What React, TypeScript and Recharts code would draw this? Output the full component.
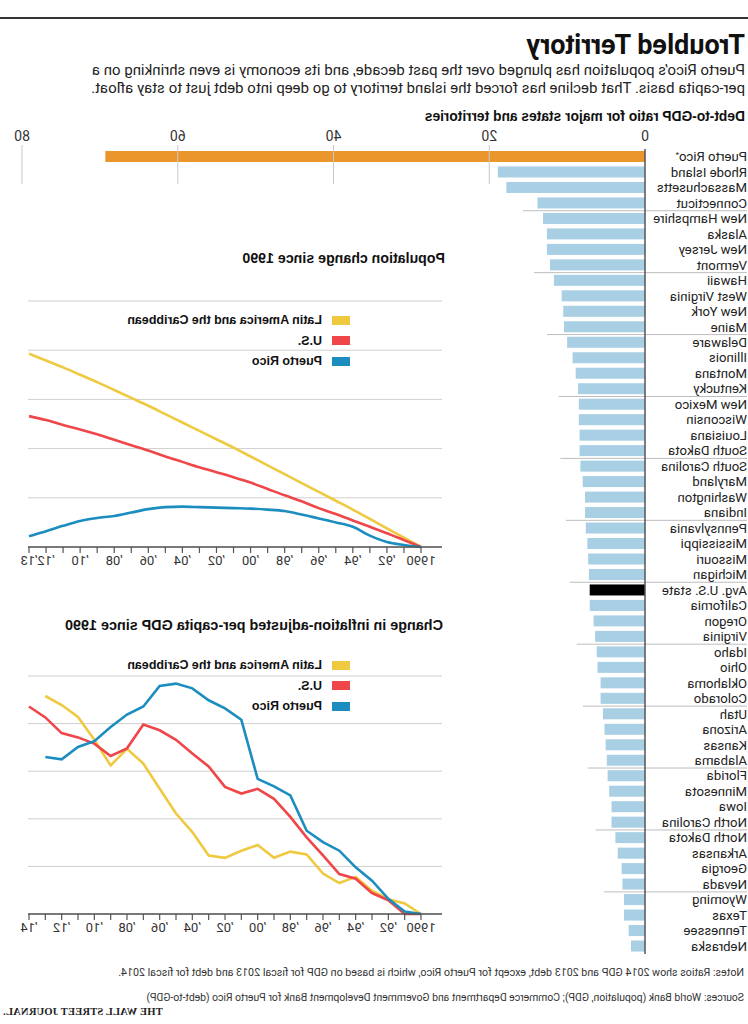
import React from 'react';
import { BarChart, Bar, XAxis, YAxis, LineChart, Line, CartesianGrid, Legend } from 'recharts';

// ---------- data ----------
const states = ['Puerto Rico', 'Rhode Island', 'Massachusetts', 'Connecticut', 'New Hampshire', 'Alaska', 'New Jersey', 'Vermont', 'Hawaii', 'West Virginia', 'New York', 'Maine', 'Delaware', 'Illinois', 'Montana', 'Kentucky', 'New Mexico', 'Wisconsin', 'Louisiana', 'South Dakota', 'South Carolina', 'Maryland', 'Washington', 'Indiana', 'Pennsylvania', 'Mississippi', 'Missouri', 'Michigan', 'Avg. U.S. state', 'California', 'Oregon', 'Virginia', 'Idaho', 'Ohio', 'Oklahoma', 'Colorado', 'Utah', 'Arizona', 'Kansas', 'Alabama', 'Florida', 'Minnesota', 'Iowa', 'North Carolina', 'North Dakota', 'Arkansas', 'Georgia', 'Nevada', 'Wyoming', 'Texas', 'Tennessee', 'Nebraska'];
const debtToGdp = [69.3, 18.9, 17.8, 13.8, 13.1, 12.6, 12.6, 12.2, 11.7, 10.7, 10.5, 10.4, 10.0, 9.3, 8.9, 8.6, 8.5, 8.5, 8.4, 8.4, 8.3, 8.0, 7.7, 7.7, 7.6, 7.4, 7.3, 7.2, 7.1, 7.1, 6.6, 6.4, 6.2, 6.1, 5.7, 5.7, 5.4, 5.2, 5.05, 4.9, 4.8, 4.6, 4.3, 4.3, 3.8, 3.5, 3.0, 2.9, 2.7, 2.7, 2.1, 1.8];
const debtTicks = [0, 20, 40, 60, 80];

const popYears = [1990, 1991, 1992, 1993, 1994, 1995, 1996, 1997, 1998, 1999, 2000, 2001, 2002, 2003, 2004, 2005, 2006, 2007, 2008, 2009, 2010, 2011, 2012, 2013];
const popLatAm = [0, 1.9, 3.8, 5.7, 7.6, 9.4, 11.2, 13.0, 14.8, 16.6, 18.4, 20.2, 21.9, 23.6, 25.3, 27.0, 28.7, 30.3, 31.9, 33.5, 35.0, 36.5, 37.9, 39.3];
const popUS = [0, 1.4, 2.8, 4.1, 5.4, 6.7, 7.9, 9.3, 10.5, 11.8, 13.1, 14.2, 15.2, 16.2, 17.3, 18.4, 19.6, 20.7, 21.8, 22.9, 23.9, 24.8, 25.8, 26.6];
const popPR = [0, 0.4, 1.0, 2.3, 4.1, 5.0, 5.8, 6.6, 7.3, 7.6, 7.8, 7.9, 8.0, 8.1, 8.2, 8.1, 7.7, 7.0, 6.3, 5.9, 5.3, 4.3, 3.2, 2.2];

const gdpYears = [1990, 1991, 1992, 1993, 1994, 1995, 1996, 1997, 1998, 1999, 2000, 2001, 2002, 2003, 2004, 2005, 2006, 2007, 2008, 2009, 2010, 2011, 2012, 2013, 2014];
const gdpLatAm = [0, 2.2, 3.1, 4.9, 7.8, 6.5, 8.5, 12.5, 13.1, 11.8, 14.5, 13.3, 11.8, 12.3, 17.2, 21.1, 26.3, 31.6, 34.7, 31.2, 36.6, 41.4, 43.9, 45.8, null];
const gdpUS = [0, 0, 2.9, 4.4, 7.4, 8.4, 12.3, 16.1, 20.4, 24.2, 26.3, 25.3, 26.7, 31.0, 33.7, 36.6, 38.6, 39.8, 34.8, 33.2, 35.8, 37.1, 38.0, 41.3, 43.6];
const gdpPR = [0, 0.5, 3.2, 7.0, 9.8, 13.3, 15.1, 17.5, 24.9, 26.8, 28.4, 40.8, 43.2, 44.9, 47.4, 48.4, 47.9, 43.6, 41.9, 39.3, 36.3, 35.1, 32.5, 33.0, null];
const pctTicks = [0, 10, 20, 30, 40, 50];

const seriesNames = ['Latin America and the Caribbean', 'U.S.', 'Puerto Rico'];
const seriesColors = ['#efc940', '#ef4649', '#1b8dbf'];

// ---------- tables ----------
const debtData = states.map((name, i) => ({ name, value: debtToGdp[i] }));
const popData = popYears.map((year, i) => ({ year, latam: popLatAm[i], us: popUS[i], pr: popPR[i] }));
const gdpData = gdpYears.map((year, i) => ({ year, latam: gdpLatAm[i], us: gdpUS[i], pr: gdpPR[i] }));

const NARROW = '"Liberation Sans Narrow", "Arial Narrow", "Roboto", sans-serif';
const BOLD = '"Liberation Sans", Arial, sans-serif';

const DebtBar = (props: any) => {
  const { x, y, width, height, index, payload } = props;
  const fill = payload.name === 'Puerto Rico' ? '#ea962d' : payload.name === 'Avg. U.S. state' ? '#000' : '#a8cfe3';
  return (
    <g>
      {index > 0 && index % 4 === 0 && (
        <line x1={1} x2={x + width + 20} y1={y - 2.2} y2={y - 2.2} stroke="#bdbdbd" strokeWidth={1} />
      )}
      <rect x={x} y={y} width={width} height={height} fill={fill} />
    </g>
  );
};

const DebtTick = (props: any) => {
  const { x, y, payload } = props;
  return (
    <g>
      <text x={x} y={y} textAnchor="middle" fontSize={14} fill="#333" fontFamily={NARROW}>{payload.value}</text>
      {payload.value !== 0 && <line x1={x} x2={x} y1={y + 4} y2={y + 43} stroke="#c8c8c8" strokeWidth={1} />}
    </g>
  );
};

const StateTick = (props: any) => {
  const { x, y, payload } = props;
  const isPR = payload.value === 'Puerto Rico';
  return (
    <text x={x} y={y} dy={4.5} textAnchor="start" fontSize={13.2} fill="#222" fontFamily={NARROW}>
      {payload.value}
      {isPR && <tspan fontSize={8} dy={-4}>*</tspan>}
    </text>
  );
};

const makeYearTick = (last: number) => (props: any) => {
  const { x, y, payload } = props;
  const v = payload.value;
  let label = '';
  if (v === 1990) label = '1990';
  else if (v % 2 === 0 || v === last) label = '\u2019' + String(v).slice(2);
  return (
    <text x={x} y={y} dy={10} textAnchor="middle" fontSize={13} fill="#333" fontFamily={NARROW}>{label}</text>
  );
};

const PctTick = (props: any) => {
  const { x, y, payload } = props;
  return (
    <text x={x} y={y} dy={-5} textAnchor="start" fontSize={13} fill="#333" fontFamily={NARROW}>
      {payload.value === 50 ? '50%' : payload.value}
    </text>
  );
};

const LegendBox = (props: any) => {
  const items = [...(props.payload || [])].sort(
    (a: any, b: any) => seriesNames.indexOf(a.value) - seriesNames.indexOf(b.value)
  );
  return (
    <div style={{ fontFamily: BOLD, fontWeight: 'bold', fontSize: 12.5, color: '#111' }}>
      {items.map((it: any) => (
        <div key={it.value} style={{ display: 'flex', alignItems: 'center', height: 20.5, whiteSpace: 'nowrap' }}>
          <span style={{ display: 'inline-block', width: 18, height: 9, background: it.color, marginRight: 10 }} />
          <span>{it.value}</span>
        </div>
      ))}
    </div>
  );
};

const SmallLineChart = ({ data, years, last, height, legendTop, curve }: any) => (
  <LineChart width={748} height={height} data={data} margin={{ top: 21, right: 28, bottom: 8, left: 306 }}>
    <CartesianGrid vertical={false} stroke="#cfcfcf" strokeWidth={1} />
    <XAxis
      dataKey="year"
      type="number"
      domain={[1990, last]}
      ticks={years}
      interval={0}
      padding={{ left: 21, right: 1 }}
      height={25}
      tickSize={6}
      tickMargin={2}
      axisLine={{ stroke: '#555', strokeWidth: 1.5 }}
      tickLine={{ stroke: '#555', strokeWidth: 1.2 }}
      tick={makeYearTick(last)}
    />
    <YAxis
      domain={[0, 50]}
      ticks={pctTicks}
      mirror
      width={0}
      tickSize={0}
      tickMargin={0}
      axisLine={false}
      tickLine={false}
      tick={PctTick}
    />
    <Legend
      layout="vertical"
      align="center"
      verticalAlign="middle"
      content={LegendBox}
      wrapperStyle={{ left: 398, top: legendTop, width: 'auto', height: 'auto' }}
    />
    <Line type={curve} dataKey="latam" name={seriesNames[0]} stroke={seriesColors[0]} strokeWidth={2.6} dot={false} isAnimationActive={false} />
    <Line type={curve} dataKey="us" name={seriesNames[1]} stroke={seriesColors[1]} strokeWidth={2.6} dot={false} isAnimationActive={false} />
    <Line type={curve} dataKey="pr" name={seriesNames[2]} stroke={seriesColors[2]} strokeWidth={2.6} dot={false} isAnimationActive={false} />
  </LineChart>
);

export default function App() {
  return (
    <div
      style={{
        position: 'absolute',
        left: 0,
        top: 0,
        width: 748,
        height: 1024,
        overflow: 'hidden',
        background: '#fff',
        transform: 'scaleX(-1)',
        color: '#222',
      }}
    >
      <div style={{ position: 'absolute', left: 0, top: 17, width: 748, height: 2, background: '#333' }} />
      <div style={{ position: 'absolute', left: 3, top: 28, fontFamily: NARROW, fontWeight: 'bold', fontSize: 27, lineHeight: '34px', color: '#111', whiteSpace: 'nowrap' }}>
        Troubled Territory
      </div>
      <div style={{ position: 'absolute', left: 3, top: 61, fontFamily: NARROW, fontSize: 15, lineHeight: '18px', color: '#222', whiteSpace: 'nowrap' }}>
        Puerto Rico’s population has plunged over the past decade, and its economy is even shrinking on a
        <br />
        per-capita basis. That decline has forced the island territory to go deep into debt just to stay afloat.
      </div>
      <div style={{ position: 'absolute', left: 3, top: 109, fontFamily: BOLD, fontWeight: 'bold', fontSize: 13.8, lineHeight: '16px', color: '#111', whiteSpace: 'nowrap' }}>
        Debt-to-GDP ratio for major states and territories
      </div>

      <div style={{ position: 'absolute', left: 0, top: 0 }}>
        <BarChart width={748} height={960} layout="vertical" data={debtData} margin={{ top: 119, right: 22, bottom: 6, left: 0 }} barSize={11}>
          <XAxis type="number" orientation="top" domain={[0, 80]} ticks={debtTicks} axisLine={false} tickLine={false} height={30} tick={DebtTick} />
          <YAxis type="category" dataKey="name" width={103} interval={0} tickSize={0} tickMargin={102} axisLine={{ stroke: '#555', strokeWidth: 1.5 }} tickLine={false} tick={StateTick} />
          <Bar dataKey="value" isAnimationActive={false} shape={DebtBar} />
        </BarChart>
      </div>

      <div style={{ position: 'absolute', left: 303, top: 250, fontFamily: BOLD, fontWeight: 'bold', fontSize: 14.2, lineHeight: '17px', color: '#111', whiteSpace: 'nowrap' }}>
        Population change since 1990
      </div>
      <div style={{ position: 'absolute', left: 0, top: 280 }}>
        <SmallLineChart data={popData} years={popYears} last={2013} height={300} legendTop={30} curve="monotone" />
      </div>

      <div style={{ position: 'absolute', left: 305, top: 617, fontFamily: BOLD, fontWeight: 'bold', fontSize: 14.4, lineHeight: '17px', color: '#111', whiteSpace: 'nowrap' }}>
        Change in inflation-adjusted per-capita GDP since 1990
      </div>
      <div style={{ position: 'absolute', left: 0, top: 655 }}>
        <SmallLineChart data={gdpData} years={gdpYears} last={2014} height={292} legendTop={0} curve="linear" />
      </div>

      <div style={{ position: 'absolute', left: 4, top: 966, fontFamily: NARROW, fontSize: 10.7, lineHeight: '14px', color: '#333', whiteSpace: 'nowrap' }}>
        Notes: Ratios show 2014 GDP and 2013 debt, except for Puerto Rico, which is based on GDP for fiscal 2013 and debt for fiscal 2014.
      </div>
      <div style={{ position: 'absolute', left: 4, top: 991, fontFamily: NARROW, fontSize: 10.4, lineHeight: '14px', color: '#333', whiteSpace: 'nowrap' }}>
        Sources: World Bank (population, GDP); Commerce Department and Government Development Bank for Puerto Rico (debt-to-GDP)
      </div>
      <div style={{ position: 'absolute', right: 3, top: 1006, fontFamily: '"Liberation Serif", serif', fontWeight: 'bold', fontSize: 10.5, lineHeight: '12px', color: '#222', whiteSpace: 'nowrap', letterSpacing: 0.2 }}>
        THE WALL STREET JOURNAL.
      </div>
    </div>
  );
}
